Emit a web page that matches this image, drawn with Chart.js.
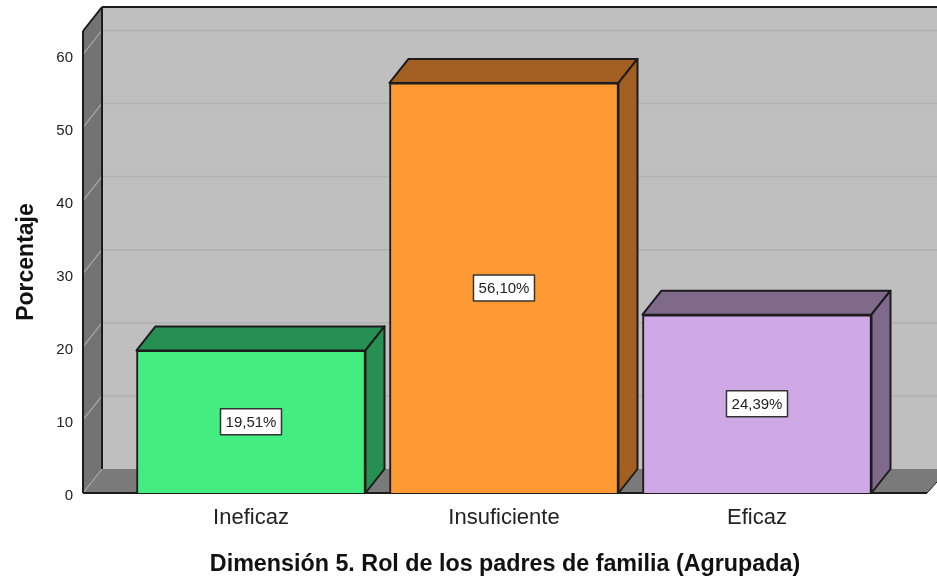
<!DOCTYPE html>
<html>
<head>
<meta charset="utf-8">
<script src="https://cdn.jsdelivr.net/npm/chart.js@4/dist/chart.umd.min.js"></script>
<style>
  html, body { margin: 0; padding: 0; background: #fff; }
  canvas { display: block; }
</style>
</head>
<body>
<canvas id="chart" width="937" height="582"></canvas>
<script>
const categories = ["Ineficaz", "Insuficiente", "Eficaz"];
const percentages = [19.51, 56.10, 24.39];
const valueLabels = ["19,51%", "56,10%", "24,39%"];
const yTicks = [0, 10, 20, 30, 40, 50, 60];
const frontColors = ["#43ed7f", "#ff9933", "#cfa8e6"];
const sideColors = ["#268f52", "#a35f22", "#806a8c"];

// offset of the back plane from the front plane
const depthX = 19;
const depthY = -24;
const lineColor = "#1c1c1c";
const fontFamily = "'Liberation Sans', Arial, sans-serif";

const wallPlugin = {
  id: "wall",
  beforeDatasetsDraw(chart) {
    const { ctx, chartArea: a, scales: { y } } = chart;
    const poly = (pts, fill) => {
      ctx.beginPath();
      pts.forEach((p, i) => (i ? ctx.lineTo(p[0], p[1]) : ctx.moveTo(p[0], p[1])));
      ctx.closePath();
      ctx.fillStyle = fill;
      ctx.fill();
    };
    const line = (x1, y1, x2, y2, color, width) => {
      ctx.beginPath();
      ctx.moveTo(x1, y1);
      ctx.lineTo(x2, y2);
      ctx.strokeStyle = color;
      ctx.lineWidth = width;
      ctx.stroke();
    };
    const backL = a.left + depthX;
    const backT = a.top + depthY;
    const backB = a.bottom + depthY;
    const canvasR = chart.width;
    ctx.save();
    // back wall, left wall, floor
    poly([[backL, backT], [canvasR, backT], [canvasR, backB], [backL, backB]], "#bfbfbf");
    poly([[a.left, a.top], [backL, backT], [backL, backB], [a.left, a.bottom]], "#737373");
    poly([[a.left, a.bottom], [backL, backB], [canvasR, backB], [canvasR, a.bottom - 11], [a.right, a.bottom]], "#7a7a7a");
    // grid lines on the back wall and the left wall
    yTicks.forEach((v) => {
      const py = y.getPixelForValue(v);
      if (v > 0) line(backL, py + depthY, canvasR, py + depthY, "#b0b0b0", 1.5);
      line(a.left, py, backL, py + depthY, "#a8a8a8", 1.2);
    });
    // frame
    line(backL, backT, canvasR, backT, lineColor, 2);
    line(backL, backT, backL, backB, lineColor, 2);
    line(a.left, a.top, a.left, a.bottom, lineColor, 2);
    line(a.left, a.top, backL, backT, lineColor, 2);
    line(a.left, a.bottom, a.right, a.bottom, lineColor, 2);
    line(a.right, a.bottom, canvasR, a.bottom - 11, lineColor, 1);
    ctx.restore();
  },
  afterDatasetsDraw(chart) {
    const { ctx } = chart;
    const bars = chart.getDatasetMeta(0).data;
    ctx.save();
    bars.forEach((bar, i) => {
      const l = bar.x - bar.width / 2;
      const r = bar.x + bar.width / 2;
      const t = bar.y;
      const b = bar.base;
      ctx.fillStyle = sideColors[i];
      ctx.strokeStyle = lineColor;
      ctx.lineWidth = 2;
      ctx.lineJoin = "round";
      // top face
      ctx.beginPath();
      ctx.moveTo(l, t);
      ctx.lineTo(l + depthX, t + depthY);
      ctx.lineTo(r + depthX, t + depthY);
      ctx.lineTo(r, t);
      ctx.closePath();
      ctx.fill();
      ctx.stroke();
      // side face
      ctx.beginPath();
      ctx.moveTo(r, t);
      ctx.lineTo(r + depthX, t + depthY);
      ctx.lineTo(r + depthX, b + depthY);
      ctx.lineTo(r, b);
      ctx.closePath();
      ctx.fill();
      ctx.stroke();
    });
    // value boxes
    ctx.font = "15px " + fontFamily;
    ctx.textAlign = "center";
    ctx.textBaseline = "middle";
    bars.forEach((bar, i) => {
      const cy = (bar.y + bar.base) / 2;
      const w = 61;
      const h = 26;
      ctx.fillStyle = "#fff";
      ctx.fillRect(bar.x - w / 2, cy - h / 2, w, h);
      ctx.strokeStyle = "#333";
      ctx.lineWidth = 1.5;
      ctx.strokeRect(bar.x - w / 2, cy - h / 2, w, h);
      ctx.fillStyle = "#222";
      ctx.fillText(valueLabels[i], bar.x, cy + 1);
    });
    ctx.restore();
  },
};

new Chart(document.getElementById("chart"), {
  type: "bar",
  data: {
    datasets: [
      {
        data: categories.map((c, i) => ({ x: i, y: percentages[i] })),
        backgroundColor: frontColors,
        borderColor: lineColor,
        borderWidth: 2,
        barThickness: 229,
      },
    ],
  },
  plugins: [wallPlugin],
  options: {
    responsive: false,
    animation: false,
    layout: { padding: { top: 31, right: 10, left: 13, bottom: 0 } },
    plugins: { legend: { display: false }, title: { display: false }, tooltip: { enabled: false } },
    scales: {
      x: {
        type: "linear",
        offset: false,
        min: -0.664,
        max: 2.672,
        grid: { display: false, drawTicks: false },
        border: { display: false },
        afterBuildTicks: (scale) => {
          scale.ticks = categories.map((c, i) => ({ value: i }));
        },
        afterFit: (scale) => {
          scale.height = 89;
        },
        ticks: {
          autoSkip: false,
          maxRotation: 0,
          padding: 12,
          color: "#222",
          font: { family: fontFamily, size: 22 },
          callback: (v) => categories[v],
        },
        title: {
          display: true,
          text: "Dimensión 5. Rol de los padres de familia (Agrupada)",
          color: "#111",
          font: { family: fontFamily, size: 23.3, weight: "bold" },
          padding: { top: 0, bottom: 3 },
        },
      },
      y: {
        min: 0,
        max: 63.2,
        grid: { display: false, drawTicks: false },
        border: { display: false },
        afterBuildTicks: (scale) => {
          scale.ticks = yTicks.map((v) => ({ value: v }));
        },
        afterFit: (scale) => {
          scale.width = 70;
        },
        ticks: {
          padding: 10,
          labelOffset: 3,
          color: "#222",
          font: { family: fontFamily, size: 15 },
        },
        title: {
          display: true,
          text: "Porcentaje",
          color: "#111",
          font: { family: fontFamily, size: 23, weight: "bold" },
          padding: { top: 0, bottom: 0 },
        },
      },
    },
  },
});
</script>
</body>
</html>
